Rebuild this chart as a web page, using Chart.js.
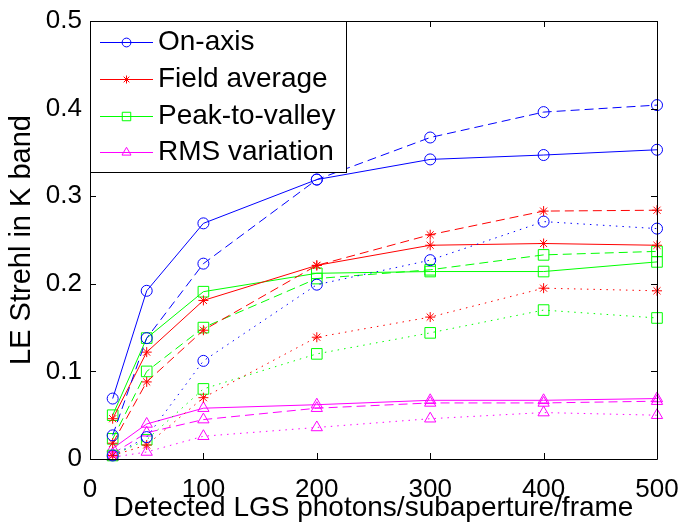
<!DOCTYPE html>
<html>
<head>
<meta charset="utf-8">
<title>LE Strehl in K band</title>
<style>
  body { margin: 0; background: white; }
  canvas { display: block; }
</style>
</head>
<body>
<canvas id="myChart" width="682" height="523"></canvas>

<script src="https://cdn.jsdelivr.net/npm/chart.js"></script>
<script>
// x values (detected photons per subaperture per frame)
var photons = [20, 50, 100, 200, 300, 400, 500];

var seriesNames = ['On-axis', 'Field average', 'Peak-to-valley', 'RMS variation'];

// solid / dashed / dotted curves for each quantity
var onAxisSolid   = [0.069, 0.192, 0.269, 0.319, 0.342, 0.347, 0.353];
var onAxisDashed  = [0.027, 0.138, 0.223, 0.319, 0.367, 0.396, 0.404];
var onAxisDotted  = [0.004, 0.025, 0.112, 0.199, 0.227, 0.271, 0.263];

var fieldSolid    = [0.046, 0.122, 0.181, 0.221, 0.244, 0.246, 0.244];
var fieldDashed   = [0.018, 0.088, 0.147, 0.221, 0.256, 0.283, 0.284];
var fieldDotted   = [0.004, 0.016, 0.070, 0.139, 0.162, 0.195, 0.192];

var ptvSolid      = [0.050, 0.138, 0.191, 0.212, 0.214, 0.214, 0.225];
var ptvDashed     = [0.023, 0.100, 0.150, 0.206, 0.216, 0.233, 0.237];
var ptvDotted     = [0.004, 0.022, 0.080, 0.120, 0.144, 0.170, 0.161];

var rmsSolid      = [0.012, 0.040, 0.058, 0.062, 0.067, 0.067, 0.069];
var rmsDashed     = [0.006, 0.030, 0.045, 0.058, 0.064, 0.064, 0.066];
var rmsDotted     = [0.002, 0.008, 0.026, 0.036, 0.046, 0.053, 0.050];

var FONT = "'Liberation Sans', Arial, Helvetica, sans-serif";
Chart.defaults.font.family = FONT;
Chart.defaults.color = '#000';

var SOLID = [];
var DASHED = [9, 5];
var DOTTED = [1.5, 5];

function makeSet(label, values, color, marker, radius, dash) {
  return {
    label: label,
    data: values.map(function (v, i) { return { x: photons[i], y: v }; }),
    borderColor: color,
    borderWidth: 1,
    borderDash: dash,
    pointStyle: marker,
    pointRadius: radius,
    pointBorderColor: color,
    pointBackgroundColor: 'rgba(0,0,0,0)',
    pointBorderWidth: 1,
    fill: false,
    tension: 0,
    clip: false
  };
}

var datasets = [
  makeSet(seriesNames[0], onAxisSolid,  '#0000ff', 'circle', 5.5, SOLID),
  makeSet(seriesNames[0], onAxisDashed, '#0000ff', 'circle', 5.5, DASHED),
  makeSet(seriesNames[0], onAxisDotted, '#0000ff', 'circle', 5.5, DOTTED),
  makeSet(seriesNames[1], fieldSolid,   '#ff0000', 'star', 5, SOLID),
  makeSet(seriesNames[1], fieldDashed,  '#ff0000', 'star', 5, DASHED),
  makeSet(seriesNames[1], fieldDotted,  '#ff0000', 'star', 5, DOTTED),
  makeSet(seriesNames[2], ptvSolid,     '#00ff00', 'rect', 7.5, SOLID),
  makeSet(seriesNames[2], ptvDashed,    '#00ff00', 'rect', 7.5, DASHED),
  makeSet(seriesNames[2], ptvDotted,    '#00ff00', 'rect', 7.5, DOTTED),
  makeSet(seriesNames[3], rmsSolid,     '#ff00ff', 'triangle', 6.5, SOLID),
  makeSet(seriesNames[3], rmsDashed,    '#ff00ff', 'triangle', 6.5, DASHED),
  makeSet(seriesNames[3], rmsDotted,    '#ff00ff', 'triangle', 6.5, DOTTED)
];

// matlab style box with inward ticks, plus the legend box
var framePlugin = {
  id: 'frame',
  afterDatasetsDraw: function (chart) {
    var ctx = chart.ctx;
    var a = chart.chartArea;
    var xs = chart.scales.x;
    var ys = chart.scales.y;
    var tick = 6;

    ctx.save();
    ctx.strokeStyle = '#000';
    ctx.lineWidth = 1;
    ctx.setLineDash([]);
    ctx.beginPath();
    ctx.rect(a.left + 0.5, a.top + 0.5, a.right - a.left, a.bottom - a.top);
    xs.ticks.forEach(function (t) {
      var px = Math.round(xs.getPixelForValue(t.value)) + 0.5;
      ctx.moveTo(px, a.bottom); ctx.lineTo(px, a.bottom - tick);
      ctx.moveTo(px, a.top); ctx.lineTo(px, a.top + tick);
    });
    ys.ticks.forEach(function (t) {
      var py = Math.round(ys.getPixelForValue(t.value)) + 0.5;
      ctx.moveTo(a.left, py); ctx.lineTo(a.left + tick, py);
      ctx.moveTo(a.right, py); ctx.lineTo(a.right - tick, py);
    });
    ctx.stroke();

    // legend
    var lx = a.left, ly = a.top, lw = 256, lh = 151;
    ctx.fillStyle = '#fff';
    ctx.fillRect(lx, ly, lw, lh);
    ctx.strokeRect(lx + 0.5, ly + 0.5, lw, lh);

    var rows = [21, 58, 95, 131];
    ctx.font = '28px ' + FONT;
    ctx.textBaseline = 'middle';
    ctx.textAlign = 'left';
    for (var i = 0; i < 4; i++) {
      var ds = chart.data.datasets[i * 3];
      var y = ly + rows[i] + 0.5;
      ctx.strokeStyle = ds.borderColor;
      ctx.beginPath();
      ctx.moveTo(lx + 10, y);
      ctx.lineTo(lx + 63, y);
      ctx.stroke();
      ctx.fillStyle = 'rgba(0,0,0,0)';
      Chart.helpers.drawPoint(ctx, {
        pointStyle: ds.pointStyle,
        radius: ds.pointRadius * 0.8,
        rotation: 0,
        borderWidth: 1
      }, lx + 36.5, y);
      ctx.fillStyle = '#000';
      ctx.fillText(ds.label, lx + 68, y);
    }
    ctx.restore();
  }
};

var ctx = document.getElementById('myChart').getContext('2d');
var myChart = new Chart(ctx, {
  type: 'line',
  data: { datasets: datasets },
  plugins: [framePlugin],
  options: {
    responsive: false,
    animation: false,
    devicePixelRatio: 1,
    events: [],
    layout: { padding: { top: 21, right: 25, bottom: 0, left: 0 } },
    plugins: {
      legend: { display: false },
      tooltip: { enabled: false }
    },
    scales: {
      x: {
        type: 'linear',
        min: 0,
        max: 500,
        grid: { display: false, drawTicks: false },
        border: { display: false },
        ticks: { stepSize: 100, font: { size: 26 }, padding: 15, maxRotation: 0 },
        title: {
          display: true,
          text: 'Detected LGS photons/subaperture/frame',
          font: { size: 28, lineHeight: 1 },
          padding: { top: 0, bottom: 1 }
        },
        afterFit: function (s) { s.height = 64; s.paddingLeft = 0; s.paddingRight = 0; }
      },
      y: {
        min: 0,
        max: 0.5,
        grid: { display: false, drawTicks: false },
        border: { display: false },
        ticks: { stepSize: 0.1, font: { size: 26 }, padding: 8 },
        title: {
          display: true,
          text: 'LE Strehl in K band',
          font: { size: 29, lineHeight: 1 },
          padding: { top: 7, bottom: 0 }
        },
        afterFit: function (s) { s.width = 90; s.paddingTop = 0; s.paddingBottom = 0; }
      }
    }
  }
});
</script>
</body>
</html>
